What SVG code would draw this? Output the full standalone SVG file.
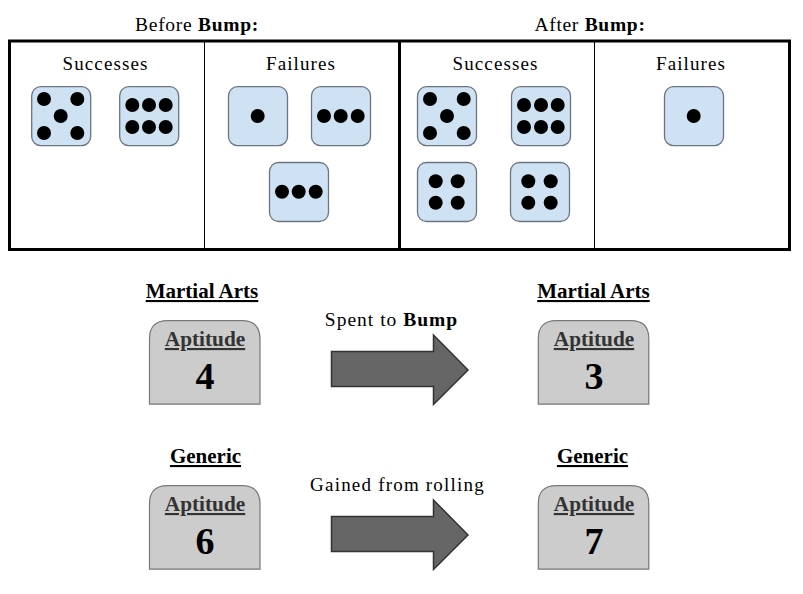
<svg xmlns="http://www.w3.org/2000/svg" xmlns:xlink="http://www.w3.org/1999/xlink" width="803" height="594" viewBox="0 0 803 594">
<style>
text{font-family:"Liberation Serif","Times New Roman",serif;fill:#000;text-anchor:middle}
.h{font-size:19.500px;letter-spacing:.7px}
.l{font-size:19px;letter-spacing:1.100px}
.t{font-size:21px;font-weight:bold;text-decoration:underline}
.a{font-size:21.300px;font-weight:bold;text-decoration:underline;fill:#333}
.n{font-size:38px;font-weight:bold}
.d{fill:#cfe2f3;stroke:#6b7480;stroke-width:1.3}
.s{fill:#ccc;stroke:#777;stroke-width:1.2}
.r{fill:#666;stroke:#333;stroke-width:1.5;stroke-linejoin:miter}
.p{fill:#000}
.b{fill:none;stroke:#000}
</style>
<defs>
<rect id="die" class="d" width="59" height="59" rx="9"/>
<path id="stone" class="s" d="M0 83.500V18Q0 0 18 0H92.500Q110.500 0 110.500 18V83.500Z"/>
<path id="arrow" class="r" d="M331.500 351.500H433.500V335L468 370L433.500 404.500V386.500H331.500Z"/>
</defs>
<g id="panels">
<rect class="b" x="9.500" y="41" width="780" height="208.500" stroke-width="3"/>
<path class="b" d="M399.500 41V249.500" stroke-width="3"/>
<path class="b" d="M204.500 41V249.500M594.500 41V249.500" stroke-width="1"/>
</g>
<g id="headings">
<text class="h" x="197" y="31">Before <tspan font-weight="bold">Bump:</tspan></text>
<text class="h" x="590" y="31">After <tspan font-weight="bold">Bump:</tspan></text>
<text class="l" x="105.500" y="70">Successes</text>
<text class="l" x="301" y="70">Failures</text>
<text class="l" x="495.500" y="70">Successes</text>
<text class="l" x="691" y="70">Failures</text>
</g>
<g id="die-before-s5"><use xlink:href="#die" href="#die" x="31.700" y="86.700"/><g class="p"><circle cx="44" cy="99" r="7"/><circle cx="77.300" cy="99" r="7"/><circle cx="60.700" cy="116" r="7"/><circle cx="44" cy="133" r="7"/><circle cx="77.300" cy="133" r="7"/></g></g>
<g id="die-before-s6"><use xlink:href="#die" href="#die" x="119.700" y="86.700"/><g class="p"><circle cx="132.300" cy="105" r="7"/><circle cx="149" cy="105" r="7"/><circle cx="165.700" cy="105" r="7"/><circle cx="132.300" cy="127" r="7"/><circle cx="149" cy="127" r="7"/><circle cx="165.700" cy="127" r="7"/></g></g>
<g id="die-before-f1"><use xlink:href="#die" href="#die" x="228.500" y="86.700"/><circle class="p" cx="257.700" cy="116" r="7"/></g>
<g id="die-before-f3a"><use xlink:href="#die" href="#die" x="311.500" y="86.700"/><g class="p"><circle cx="324" cy="116" r="7"/><circle cx="340.700" cy="116" r="7"/><circle cx="357.700" cy="116" r="7"/></g></g>
<g id="die-before-f3b"><use xlink:href="#die" href="#die" x="269.500" y="162.500"/><g class="p"><circle cx="282" cy="191.700" r="7"/><circle cx="298.700" cy="191.700" r="7"/><circle cx="315.700" cy="191.700" r="7"/></g></g>
<g id="die-after-s5"><use xlink:href="#die" href="#die" x="417.500" y="86.700"/><g class="p"><circle cx="430" cy="99" r="7"/><circle cx="463.700" cy="99" r="7"/><circle cx="447" cy="116" r="7"/><circle cx="430" cy="133" r="7"/><circle cx="463.700" cy="133" r="7"/></g></g>
<g id="die-after-s6"><use xlink:href="#die" href="#die" x="511.500" y="86.700"/><g class="p"><circle cx="524" cy="105" r="7"/><circle cx="541" cy="105" r="7"/><circle cx="557.700" cy="105" r="7"/><circle cx="524" cy="127" r="7"/><circle cx="541" cy="127" r="7"/><circle cx="557.700" cy="127" r="7"/></g></g>
<g id="die-after-s4a"><use xlink:href="#die" href="#die" x="417.500" y="162.500"/><g class="p"><circle cx="435.700" cy="181.300" r="7"/><circle cx="457.700" cy="181.300" r="7"/><circle cx="435.700" cy="202.700" r="7"/><circle cx="457.700" cy="202.700" r="7"/></g></g>
<g id="die-after-s4b"><use xlink:href="#die" href="#die" x="510.500" y="162.500"/><g class="p"><circle cx="528.300" cy="181.300" r="7"/><circle cx="550.700" cy="181.300" r="7"/><circle cx="528.300" cy="202.700" r="7"/><circle cx="550.700" cy="202.700" r="7"/></g></g>
<g id="die-after-f1"><use xlink:href="#die" href="#die" x="664.500" y="86.700"/><circle class="p" cx="693.700" cy="116" r="7"/></g>
<g id="connectors">
<use xlink:href="#arrow" href="#arrow"/>
<use xlink:href="#arrow" href="#arrow" y="165"/>
</g>
<g id="label-spent"><text class="l" x="391.500" y="326" style="font-size:19.500px;letter-spacing:1px">Spent to <tspan font-weight="bold">Bump</tspan></text></g>
<g id="label-gained"><text class="l" x="397.500" y="491" style="letter-spacing:1.200px">Gained from rolling</text></g>
<g id="martial-before"><text class="t" x="202" y="298">Martial Arts</text><use xlink:href="#stone" href="#stone" x="149.500" y="320.700"/><text class="a" x="205" y="346">Aptitude</text><text class="n" x="205" y="389">4</text></g>
<g id="martial-after"><text class="t" x="593.500" y="298">Martial Arts</text><use xlink:href="#stone" href="#stone" x="538.300" y="320.700"/><text class="a" x="594" y="346">Aptitude</text><text class="n" x="594" y="389">3</text></g>
<g id="generic-before"><text class="t" x="205.500" y="463">Generic</text><use xlink:href="#stone" href="#stone" x="149.500" y="485.700"/><text class="a" x="205" y="511">Aptitude</text><text class="n" x="205" y="554">6</text></g>
<g id="generic-after"><text class="t" x="592.500" y="463">Generic</text><use xlink:href="#stone" href="#stone" x="538.300" y="485.700"/><text class="a" x="594" y="511">Aptitude</text><text class="n" x="594" y="554">7</text></g>
</svg>
